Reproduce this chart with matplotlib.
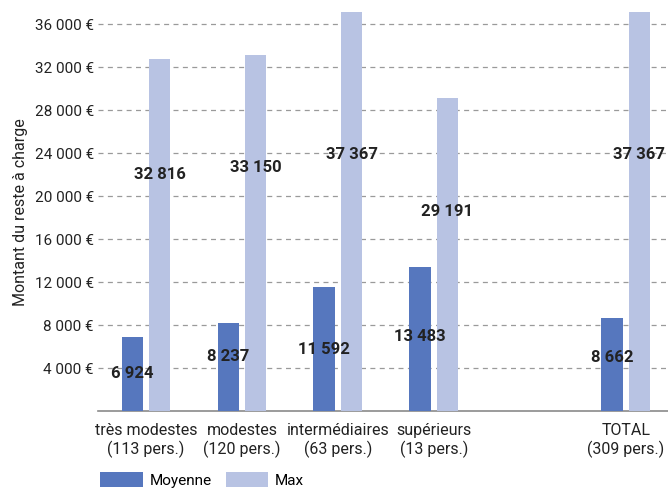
import matplotlib.pyplot as plt
import numpy as np

plt.rcParams['font.family'] = ['Roboto', 'DejaVu Sans']

# categories and values
categories = ["très modestes\n(113 pers.)", "modestes\n(120 pers.)",
              "intermédiaires\n(63 pers.)", "supérieurs\n(13 pers.)",
              "TOTAL\n(309 pers.)"]
moyenne = [6924, 8237, 11592, 13483, 8662]
maximum = [32816, 33150, 37367, 29191, 37367]
yticks = [4000, 8000, 12000, 16000, 20000, 24000, 28000, 32000, 36000]

# heights (data units) where the value labels sit
moy_label_y = [3490, 5070, 5720, 7020, 4980]
max_label_y = [22000, 22740, 23950, 18560, 23950]

c_moy = "#5677be"
c_max = "#b8c3e3"

fig = plt.figure(figsize=(6.68, 4.88), dpi=100)
ax = fig.add_axes([0.1467, 0.1568, 0.8533, 0.8186])

x = np.array([0, 1, 2, 3, 5])
w = 0.225
off = 0.142
ax.bar(x - off, moyenne, w, color=c_moy, zorder=3, label="Moyenne")
ax.bar(x + off, maximum, w, color=c_max, zorder=3, label="Max")

def fmt(v):
    return f"{v:,}".replace(",", " ")

for xi, v, ly in zip(x, moyenne, moy_label_y):
    ax.text(xi - off, ly, fmt(v), ha="center", va="center",
            fontsize=12, fontweight="bold", color="#222222", zorder=4)
for xi, v, ly in zip(x, maximum, max_label_y):
    ax.text(xi + off, ly, fmt(v), ha="center", va="center",
            fontsize=12, fontweight="bold", color="#222222", zorder=4)

ax.set_xlim(-0.5, 5.44)
ax.set_ylim(0, 37160)
ax.set_yticks(yticks)
ax.set_yticklabels([fmt(t) + " €" for t in yticks], fontsize=11, color="#222222")
ax.set_xticks(x)
ax.set_xticklabels(categories, fontsize=11.5, color="#222222", linespacing=1.25)
ax.tick_params(axis="both", length=0)
ax.tick_params(axis="y", pad=3)
ax.tick_params(axis="x", pad=8)

ax.grid(axis="y", color="#9a9a9a", linestyle=(0, (4, 3.5)), linewidth=0.9, zorder=0)
for s in ["top", "right", "left"]:
    ax.spines[s].set_visible(False)
ax.spines["bottom"].set_color("#8a8a8a")
ax.spines["bottom"].set_linewidth(1.2)

ax.set_ylabel("Montant du reste à charge", fontsize=11.5, color="#222222", labelpad=5)

fig.legend(loc="lower left", bbox_to_anchor=(0.1497, 0.0), ncol=2, frameon=False,
           fontsize=11, handlelength=2.8, handleheight=1.1, columnspacing=0.9,
           handletextpad=0.45, borderpad=0, borderaxespad=0)

fig.savefig("out.png", dpi=100)
